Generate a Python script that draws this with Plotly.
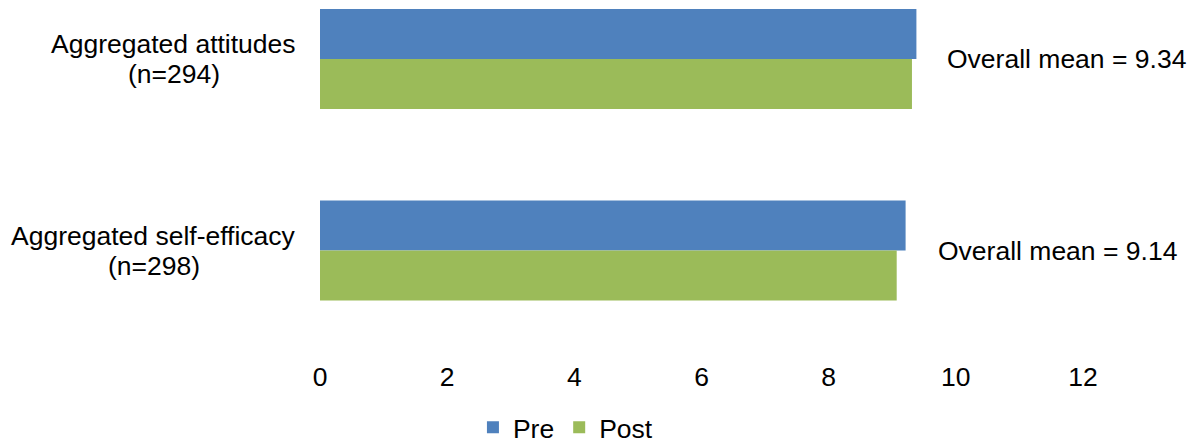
import plotly.graph_objects as go

# Aggregated scale scores, pre and post
categories = ["Aggregated attitudes", "Aggregated self-efficacy"]
sample_sizes = ["(n=294)", "(n=298)"]
pre_values = [9.38, 9.21]
post_values = [9.31, 9.07]
mean_labels = ["Overall mean = 9.34", "Overall mean = 9.14"]
x_ticks = [0, 2, 4, 6, 8, 10, 12]

FONT = "Liberation Sans, Arial, sans-serif"
FS = 26.5
BLUE = "#4F81BD"
GREEN = "#9BBB59"

L, R = 320, 112.7
PLOT_W = 1196 - L - R


def px_to_paper(px):
    return (px - L) / PLOT_W


fig = go.Figure()
fig.add_trace(go.Bar(name="Pre", y=categories, x=pre_values, orientation="h",
                     marker=dict(color=BLUE, line=dict(width=0))))
fig.add_trace(go.Bar(name="Post", y=categories, x=post_values, orientation="h",
                     marker=dict(color=GREEN, line=dict(width=0))))

annotations = []
# two-line category labels: first line right-aligned to the axis, second centred under it
line2_centres = [173.5, 154]
for i, (cat, n) in enumerate(zip(categories, sample_sizes)):
    annotations.append(dict(x=px_to_paper(298), y=cat, xref="paper", yref="y", text=cat,
                            xanchor="right", yanchor="middle", yshift=15,
                            showarrow=False, font=dict(family=FONT, size=FS, color="black")))
    annotations.append(dict(x=px_to_paper(line2_centres[i]), y=cat, xref="paper", yref="y",
                            text=n, xanchor="center", yanchor="middle", yshift=-15,
                            showarrow=False, font=dict(family=FONT, size=FS, color="black")))

mean_x = [9.83, 9.69]
for i, (cat, lab) in enumerate(zip(categories, mean_labels)):
    annotations.append(dict(x=mean_x[i], y=cat, xref="x", yref="y", text=lab,
                            xanchor="left", yanchor="middle", showarrow=False,
                            font=dict(family=FONT, size=FS, color="black")))

fig.update_layout(
    width=1196, height=443,
    margin=dict(l=L, r=R, t=0, b=85, autoexpand=False),
    paper_bgcolor="white", plot_bgcolor="white",
    barmode="group", bargap=0.478, bargroupgap=0,
    font=dict(family=FONT, size=FS, color="black"),
    xaxis=dict(range=[0, 12], tickvals=x_ticks, showgrid=False, zeroline=False,
               showline=False, ticks="", tickfont=dict(size=FS, color="black")),
    yaxis=dict(range=[1.5613, -0.308], showticklabels=False, showgrid=False,
               zeroline=False, showline=False, ticks=""),
    showlegend=True,
    legend=dict(orientation="h", x=px_to_paper(473), y=0.035, xref="paper",
                yref="container", xanchor="left", yanchor="middle",
                font=dict(family=FONT, size=FS, color="black"), traceorder="normal"),
    annotations=annotations,
)

fig.write_html("out.html")
